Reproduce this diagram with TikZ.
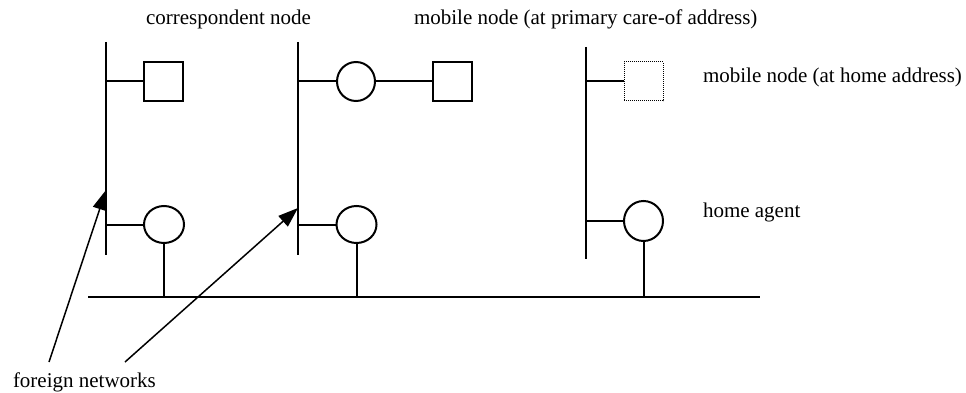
\documentclass[tikz,border=0pt]{standalone}
\usepackage{fontspec}
\setmainfont{Liberation Serif}
\usetikzlibrary{shapes, shapes.geometric, calc, arrows.meta}

\begin{document}
\begin{tikzpicture}[
    x = 1pt, y = -1pt,
    line width = 2pt,
    black,
    every node/.style={font=\fontsize{21}{25}\selectfont},
    host/.style={rectangle, draw, minimum size = 39pt, inner sep = 0pt},
    agent/.style={ellipse, draw, minimum width = 40pt, minimum height = 37pt, inner sep = 0pt},
    tag/.style={anchor = base west, inner sep = 0pt}
    ]

    % Determines the boundries
    \path[use as bounding box] (0,0) rectangle (966,393);

    \def\busY{297}          % height of the backbone
    \def\topY{81.5}         % height of the upper row

    % Ends of the three networks
    \coordinate (N1t) at (106, 42);
    \coordinate (N1b) at (106,255);
    \coordinate (N2t) at (298, 42);
    \coordinate (N2b) at (298,255);
    \coordinate (N3t) at (586, 47);
    \coordinate (N3b) at (586,259);

    % Ends of the backbone
    \coordinate (BL) at ( 88,\busY);
    \coordinate (BR) at (760,\busY);

    % Networks and backbone
    \draw (N1t) -- (N1b)
          (N2t) -- (N2b)
          (N3t) -- (N3b);
    \draw (BL) -- (BR);

    % Upper row
    \node (CN) [host] at (163.5,\topY) {};
    \node (FR) [agent, minimum width = 38pt, minimum height = 39pt] at (356,\topY) {};
    \node (MN) [host] at (452,\topY) {};
    \node (MH) [host, densely dotted, line width = 1pt] at (643.5,\topY) {};

    % Lower row
    \node (A1) [agent] at (164,224.5) {};
    \node (A2) [agent] at (356.5,224.5) {};
    \node (HA) [agent, minimum width = 39pt, minimum height = 40pt] at (643.5,221) {};

    % Hosts to networks
    \draw (N1t |- CN) -- (CN)
          (N2t |- FR) -- (FR) -- (MN)
          (N3t |- MH) -- (MH);

    % Agents to networks and to the backbone
    \foreach \a/\n in {A1/N1t, A2/N2t, HA/N3t}{
        \draw (\n |- \a) -- (\a);
        \draw (\a.south) -- (\a.south |- BL);
    }

    % Labels
    \node (LCN) [tag] at (145, 25) {correspondent node};
    \node (LMN) [tag] at (413, 25) {mobile node (at primary care-of address)};
    \node (LMH) [tag] at (702, 83) {mobile node (at home address)};
    \node (LHA) [tag] at (702,217) {home agent};
    \node (LFN) [tag] at ( 12,387) {foreign networks};

    % Arrows
    \coordinate (F1) at ( 49,362);
    \coordinate (F2) at (125,362);
    \coordinate (T1) at (106,190);
    \coordinate (T2) at (298,208);
    \draw[line width = 1.5pt, -{Triangle[length = 20pt, width = 14pt]}] (F1) -- (T1);
    \draw[line width = 1.5pt, -{Triangle[length = 20pt, width = 14pt]}] (F2) -- (T2);

\end{tikzpicture}
\end{document}
